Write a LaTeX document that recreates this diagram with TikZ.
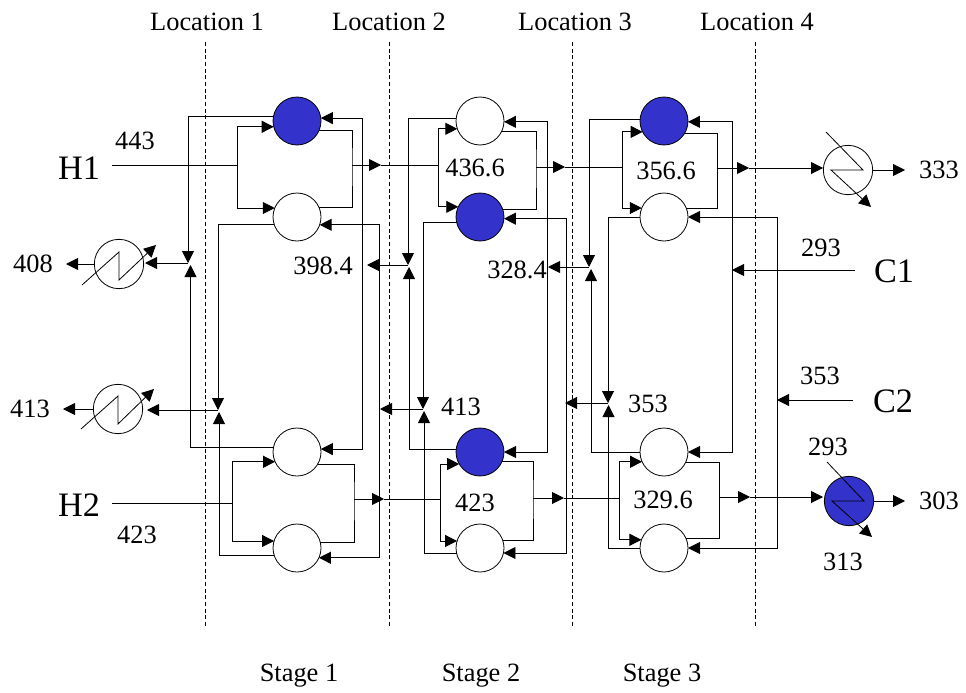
\documentclass[tikz,border=0pt]{standalone}
\usepackage{fontspec}
\setmainfont{Liberation Serif}
\usetikzlibrary{arrows.meta}
\definecolor{hxblue}{RGB}{51,51,204}
\tikzset{
  flow/.style={line width=0.7pt,-{Triangle[length=9pt,width=9pt]}},
  pipe/.style={line width=0.7pt},
  zone/.style={line width=0.6pt,dash pattern=on 3pt off 2pt},
  unit/.style={circle,draw,line width=0.6pt,minimum size=36pt,inner sep=0pt,outer sep=0pt,fill=white},
  hot/.style={unit,fill=hxblue},
  util/.style={circle,draw,line width=0.6pt,minimum size=37pt,inner sep=0pt,outer sep=0pt,fill=white},
  utilhot/.style={util,fill=hxblue},
  zig/.style={line width=0.6pt,-{Triangle[length=9pt,width=9pt]}},
  lab/.style={inner sep=0pt,font=\fontsize{19.8pt}{22pt}\selectfont},
  big/.style={inner sep=0pt,font=\fontsize{25.7pt}{28pt}\selectfont}
}
\begin{document}
\begin{tikzpicture}[x=0.75pt,y=-0.75pt]
\useasboundingbox (0,0) rectangle (966,692);
% location boundaries
\foreach \n/\x in {1/205.5,2/389,3/572,4/755.5}{
  \coordinate (zt\n) at (\x,42);
  \coordinate (zb\n) at (\x,627);
  \draw[zone] (zt\n) -- (zb\n);
}
% exchangers
\node[hot]  (A1) at (297,121) {};
\node[unit] (B1) at (297,217) {};
\node[unit] (C1) at (297,452) {};
\node[unit] (D1) at (297,548) {};
\node[unit] (A2) at (480,121) {};
\node[hot]  (B2) at (480,217) {};
\node[hot]  (C2) at (480,452) {};
\node[unit] (D2) at (480,548) {};
\node[hot]  (A3) at (664,121) {};
\node[unit] (B3) at (664,217) {};
\node[unit] (C3) at (664,452) {};
\node[unit] (D3) at (664,548) {};
\node[util] (U408) at (119,264) {};
\node[util] (U413) at (118,409) {};
\node[util] (U333) at (848,170) {};
\node[utilhot] (U303) at (849,501) {};
% named points
\coordinate (h1s) at (112,165);
\coordinate (h1j1) at (237,165);
\coordinate (h1o1) at (352,165);
\coordinate (h1t1) at (381,165);
\coordinate (h1j2) at (438,165);
\coordinate (h1o2) at (536,167);
\coordinate (h1t2) at (565,167);
\coordinate (h1j3) at (622,167);
\coordinate (h1o3) at (717,168);
\coordinate (h1t3) at (749,168);
\coordinate (h1u) at (823,168);
\coordinate (h1x) at (873,170);
\coordinate (h1e) at (905,170);
\coordinate (h2s) at (112,503);
\coordinate (h2j1) at (232,503);
\coordinate (h2o1) at (354,499);
\coordinate (h2t1) at (384,499);
\coordinate (h2j2) at (440,499);
\coordinate (h2o2) at (533,498);
\coordinate (h2t2) at (564,498);
\coordinate (h2j3) at (619,498);
\coordinate (h2o3) at (719,497);
\coordinate (h2t3) at (750,497);
\coordinate (h2u) at (823,497);
\coordinate (h2x) at (874,501);
\coordinate (h2e) at (905,501);
% splitters / mixers
\coordinate (s1a) at (188,263);
\coordinate (s1b) at (190.5,265);
\coordinate (s1t) at (145,263);
\coordinate (s1c) at (218,410);
\coordinate (s1d) at (219,412);
\coordinate (s1u) at (147,410);
\coordinate (s2a) at (408,265);
\coordinate (s2b) at (409,267);
\coordinate (s2t) at (367,265);
\coordinate (s2c) at (423,409);
\coordinate (s2d) at (424,411);
\coordinate (s2u) at (380,409);
\coordinate (s3a) at (589,267);
\coordinate (s3b) at (591,269);
\coordinate (s3t) at (548,267);
\coordinate (s3c) at (608,403);
\coordinate (s3d) at (608.5,405);
\coordinate (s3u) at (565,403);
\coordinate (v1a) at (362,265);
\coordinate (v1b) at (379,409);
\coordinate (v2a) at (547,268);
\coordinate (v2b) at (566,404);
\coordinate (v3a) at (732,270);
\coordinate (v3b) at (777,400);
\coordinate (c1s) at (855,270);
\coordinate (c2s) at (853,400);
% hot stream H1
\draw[pipe] (h1s) -- (h1j1);
\draw[flow] (h1j1) |- (A1.194.5);
\draw[flow] (h1j1) |- (B1.158);
\draw[pipe] (A1.-22) -| (h1o1) |- (B1.24.6);
\draw[flow] (h1o1) -- (h1t1);
\draw[pipe] (h1t1) -- (h1j2);
\draw[flow] (h1j2) |- (A2.199.5);
\draw[flow] (h1j2) |- (B2.155.4);
\draw[pipe] (A2.-27.3) -| (h1o2) |- (B2.19.5);
\draw[flow] (h1o2) -- (h1t2);
\draw[pipe] (h1t2) -- (h1j3);
\draw[flow] (h1j3) |- (A3.207.3);
\draw[flow] (h1j3) |- (B3.158);
\draw[pipe] (A3.-30) -| (h1o3) |- (B3.22);
\draw[flow] (h1o3) -- (h1t3);
\draw[flow] (h1t3) -- (h1u);
\draw[flow] (h1x) -- (h1e);
% hot stream H2
\draw[pipe] (h2s) -- (h2j1);
\draw[flow] (h2j1) |- (C1.204.6);
\draw[flow] (h2j1) |- (D1.163);
\draw[pipe] (C1.-30) -| (h2o1) |- (D1.14.5);
\draw[flow] (h2o1) -- (h2t1);
\draw[pipe] (h2t1) -- (h2j2);
\draw[flow] (h2j2) |- (C2.210);
\draw[flow] (h2j2) |- (D2.163);
\draw[pipe] (C2.-24.6) -| (h2o2) |- (D2.19.5);
\draw[flow] (h2o2) -- (h2t2);
\draw[pipe] (h2t2) -- (h2j3);
\draw[flow] (h2j3) |- (C3.204.6);
\draw[flow] (h2j3) |- (D3.160.5);
\draw[pipe] (C3.-27.3) -| (h2o3) |- (D3.24.6);
\draw[flow] (h2o3) -- (h2t3);
\draw[flow] (h2t3) -- (h2u);
\draw[flow] (h2x) -- (h2e);
% cold side, stage 1
\draw[flow] (A1.168) -| (s1a);
\draw[flow] (C1.168) -| (s1b);
\draw[flow] (s1a) -- (s1t);
\draw[flow] (B1.197) -| (s1c);
\draw[flow] (D1.197) -| (s1d);
\draw[flow] (s1c) -- (s1u);
\draw[flow] (v1a) |- (A1.7);
\draw[flow] (v1a) |- (C1.7);
\draw[flow] (v1b) |- (B1.-19.5);
\draw[flow] (v1b) |- (D1.-24.6);
% cold side, stage 2
\draw[flow] (s2a) -- (s2t);
\draw[flow] (A2.173) -| (s2a);
\draw[flow] (C2.173) -| (s2b);
\draw[flow] (B2.192) -| (s2c);
\draw[flow] (D2.192) -| (s2d);
\draw[flow] (s2c) -- (s2u);
\draw[flow] (v2a) |- (A2.-2.4);
\draw[flow] (v2a) |- (C2.0);
\draw[flow] (v2b) |- (B2.-4.8);
\draw[flow] (v2b) |- (D2.-12);
% cold side, stage 3
\draw[flow] (A3.177.6) -| (s3a);
\draw[flow] (C3.180) -| (s3b);
\draw[flow] (s3a) -- (s3t);
\draw[flow] (B3.180) -| (s3c);
\draw[flow] (D3.180) -| (s3d);
\draw[flow] (s3c) -- (s3u);
\draw[flow] (v3a) |- (A3.-2.4);
\draw[flow] (v3a) |- (C3.0);
\draw[flow] (v3b) |- (B3.0);
\draw[flow] (v3b) |- (D3.0);
\draw[flow] (c1s) -- (v3a);
\draw[flow] (c2s) -- (v3b);
% utility exits
\coordinate (o408) at (95,264);
\coordinate (e408) at (66,264);
\coordinate (o413) at (94,409);
\coordinate (e413) at (63,409);
\draw[flow] (o408) -- (e408);
\draw[flow] (o413) -- (e413);
% zig-zags
\draw[zig] (82,285) -- (119,252) -- (119,280) -- (156,245);
\draw[zig] (81,429) -- (118,396) -- (118,424) -- (154,389);
\draw[zig] (826,132) -- (863,170) -- (831,170) -- (871,207);
\draw[zig] (827,462) -- (864,501) -- (832,501) -- (872,537);
% labels
\node[lab] (l1) at (207,22) {Location 1};
\node[lab] (l2) at (389,22) {Location 2};
\node[lab] (l3) at (575,22) {Location 3};
\node[lab] (l4) at (757,22) {Location 4};
\node[lab] (g1) at (299,676) {Stage 1};
\node[lab] (g2) at (481,676) {Stage 2};
\node[lab] (g3) at (662,676) {Stage 3};
\node[big] (tH1) at (79,168) {H1};
\node[big] (tH2) at (79,505) {H2};
\node[big] (tC1) at (894,271) {C1};
\node[big] (tC2) at (893,401) {C2};
\node[lab] (n1) at (135,141) {443};
\node[lab] (n2) at (137,535) {423};
\node[lab] (n3) at (33,264) {408};
\node[lab] (n4) at (30,409) {413};
\node[lab] (n5) at (323,266) {398.4};
\node[lab] (n6) at (475,168) {436.6};
\node[lab] (n7) at (517,270) {328.4};
\node[lab] (n8) at (666,171) {356.6};
\node[lab] (n9) at (461,407) {413};
\node[lab] (n10) at (648,404) {353};
\node[lab] (n11) at (475,503) {423};
\node[lab] (n12) at (663,500) {329.6};
\node[lab] (n13) at (821,248) {293};
\node[lab] (n14) at (820,376) {353};
\node[lab] (n15) at (828,447) {293};
\node[lab] (n16) at (843,562) {313};
\node[lab] (n17) at (939,170) {333};
\node[lab] (n18) at (939,501) {303};
\end{tikzpicture}
\end{document}
